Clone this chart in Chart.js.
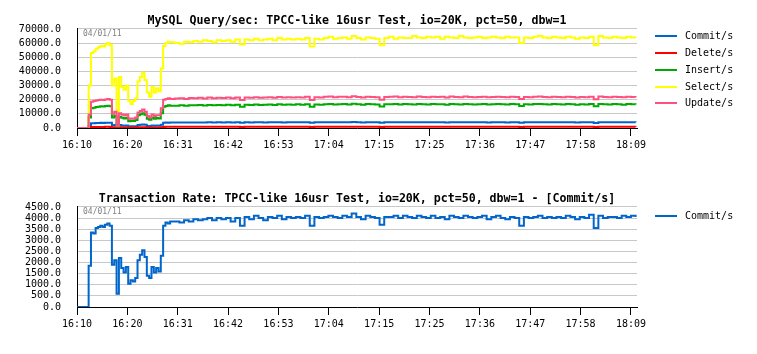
<!DOCTYPE html>
<html>
<head>
<meta charset="utf-8">
<script src="https://cdn.jsdelivr.net/npm/chart.js@4"></script>
<style>
  body { margin: 0; background: #fff; }
  #pagina { position: relative; width: 757px; height: 354px; background: #fff; }
  .caja { position: relative; width: 757px; }
  .leyenda { position: absolute; left: 655px; font: 10px "DejaVu Sans Mono", monospace; color: #000; }
  .leyenda div { height: 16.8px; line-height: 16.8px; white-space: nowrap; }
  .leyenda span.linea { display: inline-block; width: 22px; height: 2px; vertical-align: middle; margin-right: 8px; }
</style>
</head>
<body>
<div id="pagina">
  <div class="caja" style="height:178px"><canvas id="grafQueries"></canvas><div class="leyenda" id="leyendaQueries" style="top:28.3px"></div></div>
  <div class="caja" style="height:176px"><canvas id="grafCommit"></canvas><div class="leyenda" id="leyendaCommit" style="top:30px"></div></div>
</div>
<script>
// minutos desde el inicio (16:10)
var minutos = [0,0.5,1,1.5,2,2.5,3,3.5,4,4.5,5,5.5,6,6.5,7,7.5,8,8.5,9,9.5,10,10.5,11,11.5,12,12.5,13,13.5,14,14.5,15,15.5,16,16.5,17,17.5,18,18.5,19,19.5,20,
  21,22,23,24,25,26,27,28,29,30,31,32,33,34,35,36,37,38,39,40,41,42,43,44,45,46,47,48,49,50,
  51,52,53,54,55,56,57,58,59,60,61,62,63,64,65,66,67,68,69,70,71,72,73,74,75,76,77,78,79,80,
  81,82,83,84,85,86,87,88,89,90,91,92,93,94,95,96,97,98,99,100,101,102,103,104,105,106,107,108,109,110,
  111,112,113,114,115,116,117,118,119,120];

var tickPosiciones = [0, 10.82, 21.64, 32.45, 43.27, 54.09, 64.91, 75.73, 86.55, 97.36, 108.18, 119];
var tickEtiquetas = ['16:10','16:20','16:31','16:42','16:53','17:04','17:15','17:25','17:36','17:47','17:58','18:09'];

var commits = [0,0,0,0,0,1850,3350,3300,3550,3600,3650,3600,3700,3750,3650,1900,2100,600,2200,1750,
  1550,1800,1050,1200,1150,1300,2100,2350,2550,2250,1400,1300,1800,1550,1750,1600,2300,3650,3800,3750,3850,
  3850,3800,3900,3850,3950,3900,3950,4000,3900,4000,3950,4000,3850,4000,3650,4050,3950,4100,4000,3900,
  4050,4000,4100,3950,4050,4000,4050,4000,4100,3650,4050,4000,4050,4100,4050,4000,4100,4050,4200,4050,
  3950,4100,4050,4000,3700,4050,4050,4100,4000,4100,4050,4000,4100,4050,4000,4100,4000,4050,3950,4100,
  4050,4000,4100,4050,4000,4050,4100,3950,4050,4100,4000,3950,4050,4000,3650,4050,4000,4050,4100,4000,
  4050,4000,4050,4000,4100,4050,3950,4050,4000,4150,3550,4100,4000,4050,4050,4000,4100,4050,4100,4050];

var deletes = [0,0,0,0,0,300,700,700,750,750,750,750,800,800,750,400,450,150,450,400,
  350,400,250,300,250,300,450,500,550,500,300,300,400,350,400,350,500,750,800,800,800,
  800,800,820,810,830,820,830,850,820,850,830,850,810,850,760,860,830,870,850,830,
  860,850,870,830,860,850,860,850,870,760,860,850,860,870,860,850,870,860,890,860,
  840,870,860,850,780,860,860,870,850,870,860,850,870,860,850,870,850,860,840,870,
  860,850,870,860,850,860,870,840,860,870,850,840,860,850,770,860,850,860,870,850,
  860,850,860,850,870,860,840,860,850,880,750,870,850,860,860,850,870,860,870,860];

var inserts = [0,0,0,0,0,7500,14000,14300,14800,15000,15300,15200,15500,15800,15400,7500,8700,1000,8000,7200,
  6800,7200,4800,5200,5000,5700,9000,9800,10500,9300,6500,5800,7200,6500,7000,6800,10500,15000,15600,16000,15800,
  15800,16000,15700,16100,16000,16200,15900,16300,16000,16300,16100,16400,16000,16500,15000,16400,16200,16600,16300,16500,
  16600,16300,16700,16400,16600,16400,16700,16500,16800,15000,16600,16500,16800,17000,16600,16800,16900,16600,17100,16700,
  16500,16900,16700,16600,15200,16700,16800,17000,16600,16900,16700,16600,16900,16700,16600,16900,16700,16800,16500,16900,
  16700,16600,16900,16700,16600,16700,16900,16600,16700,16900,16700,16600,16900,16700,15600,16700,16600,16900,17000,16700,
  16600,16900,16700,16600,16900,16700,16500,16700,16600,16900,15400,16900,16700,16600,16900,16700,16500,16900,16700,16600];

var selects = [0,0,0,0,0,30000,53000,54000,56000,57000,58000,57500,59000,60000,58500,30000,35000,12000,36000,29000,
  27000,30000,19000,17000,19000,21000,33000,36000,39000,34000,25000,22000,29000,25000,28000,26000,42000,58000,60000,61000,60500,
  60000,59500,61000,60500,61500,61000,62000,61500,60500,62000,61500,62000,61000,62500,59000,62500,62000,63000,62000,62500,
  63000,62000,63500,62500,63000,62500,63000,62500,63500,57500,63000,62500,63500,64500,63000,63500,64000,63000,65000,63500,
  62500,64000,63500,63000,58500,63500,64500,63000,64000,63500,63500,65000,64000,63500,64500,64000,64500,63000,64500,64000,
  63500,65000,64000,63500,64000,64500,63500,64000,64500,64000,63500,64500,64000,64000,60000,64000,63500,64500,65000,64000,
  63500,64500,64000,63500,64500,64000,63000,64000,63500,64500,58500,65000,64000,63500,64500,64000,63500,64500,64000,63500];

var updates = [0,0,0,0,0,9500,18500,19000,19500,19800,20000,19800,20200,20500,20000,10000,11500,1500,10500,9500,
  9000,9500,6500,6800,6500,7500,11000,12000,13000,11500,8500,7500,9500,8500,9000,9000,14000,20000,20500,21000,20500,
  20800,21000,20500,21200,21000,21300,20900,21500,21000,21400,21200,21500,21000,21600,19800,21500,21300,21700,21400,21600,
  21800,21400,21900,21500,21700,21500,21800,21600,22000,19800,21800,21600,22000,22300,21800,22000,22100,21800,22400,21900,
  21600,22100,21900,21700,20000,21900,22000,22300,21800,22100,21900,21700,22200,21900,21800,22100,21900,22000,21600,22200,
  21900,21700,22200,21900,21800,21900,22100,21700,21900,22100,21900,21700,22100,21900,20500,21900,21800,22100,22300,21900,
  21800,22100,21900,21700,22100,21900,21600,21900,21800,22100,20300,22200,21900,21800,22100,21900,21700,22100,21900,21700];

var nombresSeries = ['Commit/s', 'Delete/s', 'Insert/s', 'Select/s', 'Update/s'];
var coloresSeries = ['#0066cc', '#ff0000', '#00aa00', '#ffff00', '#ff5080'];

var fuente = '"DejaVu Sans Mono", monospace';

// sello de fecha arriba a la izquierda del area del grafico
var selloFecha = {
  id: 'selloFecha',
  beforeDatasetsDraw: function(chart) {
    var ctx = chart.ctx;
    var area = chart.chartArea;
    ctx.save();
    ctx.font = '8px ' + fuente;
    ctx.fillStyle = '#808080';
    ctx.textBaseline = 'middle';
    ctx.fillText('04/01/11', area.left + 6, area.top + 5.5);
    ctx.restore();
  }
};

window.onload = function() {
    crearGrafico('grafQueries', 'MySQL Query/sec: TPCC-like 16usr Test, io=20K, pct=50, dbw=1',
        [commits, deletes, inserts, selects, updates], nombresSeries, coloresSeries, 70000, 10000, 24);
    crearGrafico('grafCommit', 'Transaction Rate: TPCC-like 16usr Test, io=20K, pct=50, dbw=1 - [Commit/s]',
        [commits], ['Commit/s'], ['#0066cc'], 4500, 500, 21);
    dibujarLeyenda('leyendaQueries', nombresSeries, coloresSeries);
    dibujarLeyenda('leyendaCommit', ['Commit/s'], ['#0066cc']);
};

function crearGrafico(idCanvas, titulo, series, nombres, colores, maximo, paso, margenAbajo) {
    var datasets = series.map(function(valores, i) {
        return {
            label: nombres[i],
            data: valores.map(function(v, j) { return { x: minutos[j], y: v }; }),
            borderColor: colores[i],
            backgroundColor: colores[i],
            borderWidth: 2,
            pointRadius: 0,
            stepped: true,
            order: series.length - i
        };
    });

    return new Chart(document.getElementById(idCanvas), {
        type: 'line',
        data: { datasets: datasets },
        plugins: [selloFecha],
        options: {
            responsive: true,
            maintainAspectRatio: false,
            animation: false,
            layout: { padding: { top: 10, right: 120, bottom: margenAbajo, left: 0 } },
            plugins: {
                legend: { display: false },
                tooltip: { enabled: false },
                title: {
                    display: true,
                    text: titulo,
                    fullSize: false,
                    color: '#000',
                    font: { family: fuente, size: 11.6, weight: 'bold', lineHeight: 1.2 },
                    padding: { top: 4, bottom: 1 }
                }
            },
            scales: {
                x: {
                    type: 'linear',
                    min: 0,
                    max: 120.3,
                    afterBuildTicks: function(eje) {
                        eje.ticks = tickPosiciones.map(function(v) { return { value: v }; });
                    },
                    ticks: {
                        autoSkip: false,
                        maxRotation: 0,
                        color: '#000',
                        padding: 3,
                        font: { family: fuente, size: 10 },
                        callback: function(valor, indice) { return tickEtiquetas[indice]; }
                    },
                    grid: { drawOnChartArea: false, drawTicks: true, tickLength: 8, tickColor: '#000' },
                    border: { color: '#000', width: 1 }
                },
                y: {
                    min: 0,
                    max: maximo,
                    afterFit: function(eje) { eje.width = 77; },
                    ticks: {
                        stepSize: paso,
                        autoSkip: false,
                        color: '#000',
                        padding: 16,
                        font: { family: fuente, size: 10 },
                        callback: function(valor) { return valor.toFixed(1); }
                    },
                    grid: { color: '#c8c8c8', drawTicks: false },
                    border: { color: '#000', width: 1 }
                }
            }
        }
    });
}

function dibujarLeyenda(idCaja, nombres, colores) {
    var caja = document.getElementById(idCaja);
    caja.innerHTML = "";
    nombres.forEach(function(nombre, i) {
        var fila = document.createElement('div');
        fila.innerHTML = '<span class="linea" style="background:' + colores[i] + '"></span>' + nombre;
        caja.appendChild(fila);
    });
}
</script>
</body>
</html>
